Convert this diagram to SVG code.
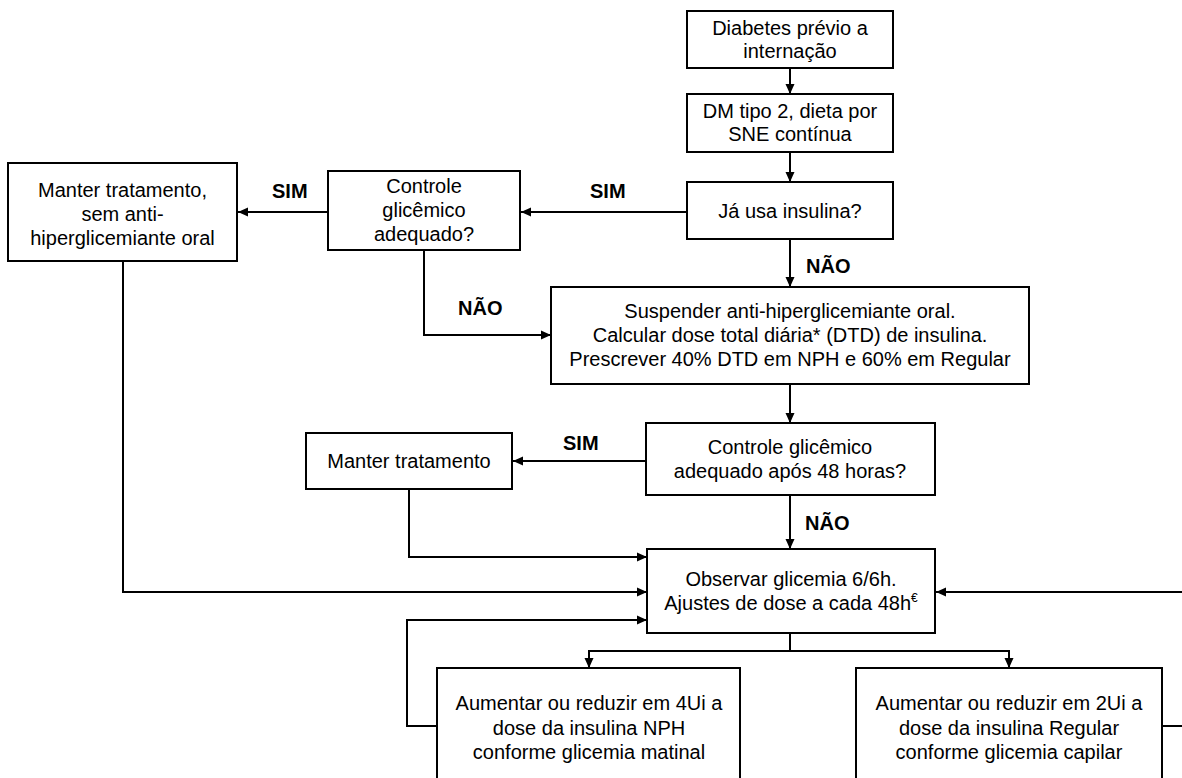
<svg xmlns="http://www.w3.org/2000/svg" width="1182" height="778" viewBox="0 0 1182 778">
<style>
.box{fill:#fff;stroke:#000;stroke-width:2}
.t{font-family:"Liberation Sans",Arial,sans-serif;font-size:20px;fill:#000;text-anchor:middle}
.lb{font-family:"Liberation Sans",Arial,sans-serif;font-size:20px;font-weight:bold;fill:#000}
.c{fill:none;stroke:#000;stroke-width:2}
</style>
<defs>
<marker id="ah" markerUnits="userSpaceOnUse" markerWidth="11" markerHeight="10" refX="10" refY="5" orient="auto">
<path d="M0,0.5 L10,5 L0,9.5 z" fill="#000"/>
</marker>
</defs>
<rect width="1182" height="778" fill="#fff"/>
<g id="connectors">
<path class="c" d="M790,68 V94" marker-end="url(#ah)"/>
<path class="c" d="M790,152 V182" marker-end="url(#ah)"/>
<path class="c" d="M687,212 H521" marker-end="url(#ah)"/>
<path class="c" d="M328,212 H238" marker-end="url(#ah)"/>
<path class="c" d="M790,239 V287" marker-end="url(#ah)"/>
<path class="c" d="M424,250 V335 H551" marker-end="url(#ah)"/>
<path class="c" d="M790,384 V423" marker-end="url(#ah)"/>
<path class="c" d="M646,461 H513" marker-end="url(#ah)"/>
<path class="c" d="M409,489 V557 H647" marker-end="url(#ah)"/>
<path class="c" d="M790,495 V549" marker-end="url(#ah)"/>
<path class="c" d="M123,261 V592 H647" marker-end="url(#ah)"/>
<path class="c" d="M1182,592 H936" marker-end="url(#ah)"/>
<path class="c" d="M437,726 H407 V620 H647" marker-end="url(#ah)"/>
<path class="c" d="M1162,726 H1182"/>
<path class="c" d="M790,633 V651"/>
<path class="c" d="M589,668 V651 H1009 V668" marker-start="none"/>
<path class="c" d="M589,651 V668" marker-end="url(#ah)"/>
<path class="c" d="M1009,651 V668" marker-end="url(#ah)"/>
<text class="lb" x="272" y="198">SIM</text>
<text class="lb" x="590" y="198">SIM</text>
<text class="lb" x="806" y="273">NÃO</text>
<text class="lb" x="458" y="315">NÃO</text>
<text class="lb" x="563" y="450">SIM</text>
<text class="lb" x="805" y="530">NÃO</text>
</g>
<g id="n1">
<rect class="box" x="687" y="11" width="206" height="57"/>
<text class="t" x="790" y="35">Diabetes prévio a</text>
<text class="t" x="790" y="58">internação</text>
</g>
<g id="n2">
<rect class="box" x="687" y="94" width="206" height="58"/>
<text class="t" x="790" y="118">DM tipo 2, dieta por</text>
<text class="t" x="790" y="141">SNE contínua</text>
</g>
<g id="n3">
<rect class="box" x="687" y="182" width="206" height="57"/>
<text class="t" x="790" y="218">Já usa insulina?</text>
</g>
<g id="n4">
<rect class="box" x="328" y="171" width="192" height="79"/>
<text class="t" x="424" y="193">Controle</text>
<text class="t" x="424" y="217">glicêmico</text>
<text class="t" x="424" y="241">adequado?</text>
</g>
<g id="n5">
<rect class="box" x="8" y="163" width="229" height="98"/>
<text class="t" x="122.5" y="197">Manter tratamento,</text>
<text class="t" x="122.5" y="221">sem anti-</text>
<text class="t" x="122.5" y="245">hiperglicemiante oral</text>
</g>
<g id="n6">
<rect class="box" x="551" y="287" width="478" height="97"/>
<text class="t" x="790" y="318">Suspender anti-hiperglicemiante oral.</text>
<text class="t" x="790" y="342">Calcular dose total diária* (DTD) de insulina.</text>
<text class="t" x="790" y="366">Prescrever 40% DTD em NPH e 60% em Regular</text>
</g>
<g id="n7">
<rect class="box" x="646" y="423" width="289" height="72"/>
<text class="t" x="790" y="454">Controle glicêmico</text>
<text class="t" x="790" y="478">adequado após 48 horas?</text>
</g>
<g id="n8">
<rect class="box" x="306" y="433" width="206" height="56"/>
<text class="t" x="409" y="468">Manter tratamento</text>
</g>
<g id="n9">
<rect class="box" x="647" y="549" width="288" height="84"/>
<text class="t" x="791" y="586">Observar glicemia 6/6h.</text>
<text class="t" x="791" y="610">Ajustes de dose a cada 48h<tspan font-size="12" dy="-8">€</tspan></text>
</g>
<g id="n10">
<rect class="box" x="437" y="668" width="303" height="130"/>
<text class="t" x="589" y="710">Aumentar ou reduzir em 4Ui a</text>
<text class="t" x="589" y="735">dose da insulina NPH</text>
<text class="t" x="589" y="759">conforme glicemia matinal</text>
</g>
<g id="n11">
<rect class="box" x="856" y="668" width="306" height="130"/>
<text class="t" x="1009" y="710">Aumentar ou reduzir em 2Ui a</text>
<text class="t" x="1009" y="735">dose da insulina Regular</text>
<text class="t" x="1009" y="759">conforme glicemia capilar</text>
</g>
</svg>
